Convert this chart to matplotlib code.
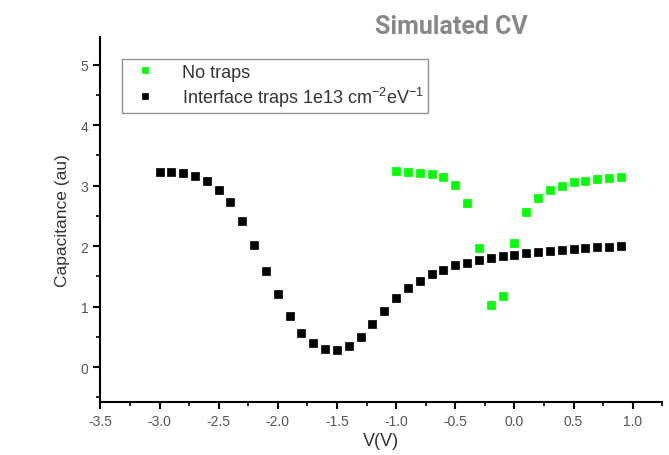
import numpy as np
import matplotlib
matplotlib.use('Agg')
import matplotlib.pyplot as plt
from matplotlib.ticker import MultipleLocator

plt.rcParams['font.family'] = ['Liberation Sans', 'DejaVu Sans']
plt.rcParams['mathtext.fontset'] = 'custom'
plt.rcParams['mathtext.rm'] = 'Liberation Sans'

# no traps (green)
v_nt = [-1.0, -0.9, -0.8, -0.7, -0.6, -0.5, -0.4, -0.3, -0.2, -0.1,
        0.0, 0.1, 0.2, 0.3, 0.4, 0.5, 0.6, 0.7, 0.8, 0.9]
c_nt = [3.24, 3.22, 3.21, 3.19, 3.14, 3.01, 2.71, 1.97, 1.02, 1.18,
        2.05, 2.56, 2.79, 2.92, 2.99, 3.05, 3.07, 3.10, 3.12, 3.14]

# interface traps (black)
v_it = [-3.0, -2.9, -2.8, -2.7, -2.6, -2.5, -2.4, -2.3, -2.2, -2.1,
        -2.0, -1.9, -1.8, -1.7, -1.6, -1.5, -1.4, -1.3, -1.2, -1.1,
        -1.0, -0.9, -0.8, -0.7, -0.6, -0.5, -0.4, -0.3, -0.2, -0.1,
        0.0, 0.1, 0.2, 0.3, 0.4, 0.5, 0.6, 0.7, 0.8, 0.9]
c_it = [3.23, 3.22, 3.20, 3.16, 3.07, 2.93, 2.72, 2.41, 2.01, 1.59,
        1.20, 0.84, 0.57, 0.39, 0.29, 0.28, 0.35, 0.50, 0.71, 0.93,
        1.14, 1.30, 1.43, 1.53, 1.61, 1.68, 1.72, 1.77, 1.80, 1.83,
        1.85, 1.88, 1.90, 1.92, 1.94, 1.95, 1.97, 1.98, 1.99, 2.00]

fig = plt.figure(figsize=(6.69, 4.56), dpi=100)
ax = fig.add_axes([0.15, 0.116, 0.84, 0.80])

ax.plot(v_nt, c_nt, 's', color='#00ff00', ms=5.5, mec='#00ff00', mew=0.5,
        label='No traps')
ax.plot(v_it, c_it, 's', color='black', ms=5.5, mew=0.5,
        label='Interface traps 1e13 cm$^{-2}$eV$^{-1}$')

ax.set_xlim(-3.5, 1.25)
ax.set_ylim(-0.58, 5.45)
ax.xaxis.set_minor_locator(MultipleLocator(0.25))
ax.yaxis.set_major_locator(MultipleLocator(1))
ax.yaxis.set_minor_locator(MultipleLocator(0.5))
xt = np.arange(-3.5, 1.01, 0.5)
ax.set_xticks(xt)
ax.set_xticklabels(['%.1f' % t for t in xt])

for s in ['top', 'right']:
    ax.spines[s].set_visible(False)
for s in ['left', 'bottom']:
    ax.spines[s].set_linewidth(1.5)
ax.tick_params(which='major', direction='out', length=5, width=1.5,
               labelsize=10, labelcolor='#555555')
ax.tick_params(which='minor', direction='out', length=3, width=1.2)

ax.set_xlabel('V(V)', fontsize=13, color='#333333', labelpad=3)
ax.set_ylabel('Capacitance (au)', fontsize=12.5, color='#333333', labelpad=8)

leg = ax.legend(loc='upper left', bbox_to_anchor=(0.039, 0.94), fontsize=13,
                frameon=True, fancybox=False, handlelength=2.0,
                handletextpad=1.05, borderpad=0.25, labelspacing=0.22,
                borderaxespad=0, markerscale=0.85)
leg.get_frame().set_edgecolor('#777777')
leg.get_frame().set_linewidth(1.0)
for t in leg.get_texts():
    t.set_color('#333333')

fig.text(0.674, 0.94, 'Simulated CV', fontsize=18, fontweight='bold',
         color='#888888', ha='center', va='center', family=['Roboto', 'DejaVu Sans'])

fig.savefig('out.png', dpi=100)
